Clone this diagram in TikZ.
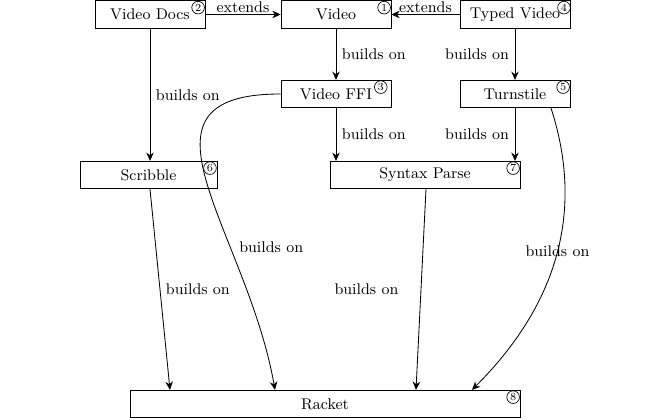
\documentclass[tikz,border=0pt]{standalone}
\usetikzlibrary{arrows.meta,calc}
\tikzset{
  every node/.style={font=\fontsize{9.3}{11}\selectfont},
  pkg/.style={draw,minimum height=16.5pt,minimum width=66pt,inner sep=1pt},
  num/.style={draw,circle,inner sep=0pt,minimum size=7.6pt,font=\fontsize{6.5}{7}\selectfont,anchor=north east},
  dep/.style={->,>={Stealth[length=5pt,width=4.5pt]},line width=0.5pt},
}
\begin{document}
\begin{tikzpicture}[x=0.6pt,y=0.6pt]
	\useasboundingbox(0,0)rectangle(650,420);
	\node[pkg](docs)at(150,405.5){Video Docs};
	\node[pkg](video)at(336,405.5){Video};
	\node[pkg](typed)at(515,405.5){Typed Video};
	\node[pkg](ffi)at(336,326){Video FFI};
	\node[pkg](turn)at(515,326){Turnstile};
	\node[pkg,minimum width=82pt](scrib)at(148.5,245){Scribble};
	\node[pkg,minimum width=114pt](syntax)at(425,245){Syntax Parse};
	\node[pkg,minimum width=234pt](racket)at(325,16){Racket};
	\node[num]at([shift={(-1.5pt,-1.5pt)}]video.north east){1};
	\node[num]at([shift={(-1.5pt,-1.5pt)}]docs.north east){2};
	\node[num]at([shift={(-3.5pt,-1.5pt)}]ffi.north east){3};
	\node[num]at([shift={(-1pt,-1.5pt)}]typed.north east){4};
	\node[num]at([shift={(-1.5pt,-1.5pt)}]turn.north east){5};
	\node[num]at([shift={(-1.5pt,-1.5pt)}]scrib.north east){6};
	\node[num]at([shift={(-1.5pt,-1.5pt)}]syntax.north east){7};
	\node[num]at([shift={(-1.5pt,-1.5pt)}]racket.north east){8};
	\draw[dep](docs)--node[above,inner sep=1pt]{extends}(video);
	\draw[dep](typed)--node[above,inner sep=1pt]{extends}(video);
	\draw[dep](video)--node[right]{builds on}(ffi);
	\draw[dep](typed)--node[left]{builds on}(turn);
	\draw[dep](docs.south)--node[right]{builds on}($(scrib.north)+(1.5,0)$);
	\draw[dep](ffi)--node[right]{builds on}(ffi|-syntax.north);
	\draw[dep](turn)--node[left]{builds on}(turn|-syntax.north);
	\draw[dep]($(scrib.south)+(1.5,0)$)--node[right]{builds on}($(racket.north)+(-155,0)$);
	\draw[dep]($(syntax.south)+(1,0)$)--node[left,xshift=-10pt]{builds on}($(racket.north)+(91,0)$);
	\draw[dep](ffi.west)to[out=180,in=100,looseness=1.4]node[pos=0.68,right,xshift=2pt]{builds on}($(racket.north)+(-50,0)$);
	\draw[dep]($(turn.south)+(36,0)$)to[out=-72,in=45]node[pos=0.47]{builds on}($(racket.north)+(147,0)$);
\end{tikzpicture}
\end{document}
